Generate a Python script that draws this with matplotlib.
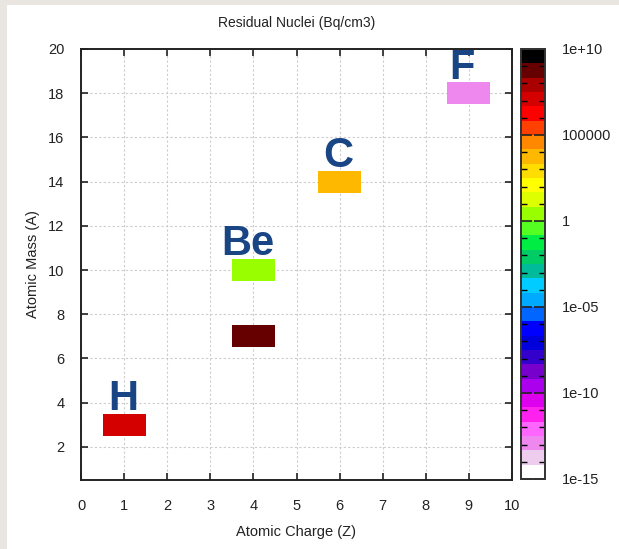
import numpy as np
import matplotlib
matplotlib.use('Agg')
import matplotlib.pyplot as plt
from matplotlib.colors import ListedColormap, LogNorm
from matplotlib.cm import ScalarMappable
from matplotlib.ticker import FixedLocator, NullFormatter
from matplotlib.patches import Rectangle

plt.rcParams['font.family'] = ['Liberation Sans', 'DejaVu Sans']

# residual nuclei: charge Z, mass A, activity (Bq/cm3)
nuclide_z = [1, 4, 4, 6, 9]
nuclide_a = [3, 7, 10, 14, 18]
activity = [1e7, 5e8, 3.0, 5e3, 1e-13]

# element labels and where they sit
labels = ['H', 'Be', 'C', 'F']
label_x = [0.97, 3.86, 5.97, 8.85]
label_y = [4.18, 11.2, 15.18, 19.15]

# gnuplot-like palette, 30 steps, low -> high
palette = ['#ffffff', '#eeccee', '#ee88ee', '#ff66ff', '#ff22ee', '#dd00ee',
           '#aa00ee', '#7700cc', '#3300cc', '#0000dd', '#0000ff', '#0066ff',
           '#00aaff', '#00ccff', '#00bb99', '#00cc66', '#00ee44', '#55ff22',
           '#99ff00', '#ddff00', '#ffff00', '#ffdd00', '#ffb800', '#ff8800',
           '#ff4000', '#ff0000', '#d40000', '#aa0000', '#660000', '#000000']
cmap = ListedColormap(palette)
norm = LogNorm(vmin=1e-15, vmax=1e10)

fig = plt.figure(figsize=(6.19, 5.49), dpi=100)
fig.patch.set_facecolor('#e9e5e1')
fig.patches.append(Rectangle((7/619, 0), 1, 1 - 5/549, transform=fig.transFigure,
                             facecolor='white', edgecolor='none', zorder=-10))

ax = fig.add_axes([81/619, 1 - 480/549, 431/619, 431/549])
for z, a, v in zip(nuclide_z, nuclide_a, activity):
    ax.bar(z, 1.0, bottom=a - 0.5, width=1.0, color=cmap(norm(v)), zorder=3)

ax.set_xlim(0, 10)
ax.set_ylim(0.5, 20)
ax.set_xticks(range(0, 11))
ax.set_yticks(range(2, 21, 2))
ax.tick_params(direction='in', top=True, right=True, length=5, width=1.2,
               labelsize=10.5, colors='#222222')
ax.tick_params(axis='x', pad=14)
ax.tick_params(axis='y', pad=12)
ax.grid(True, color='#cccccc', linestyle=(0, (2, 2)), linewidth=0.8, zorder=0)
for sp in ax.spines.values():
    sp.set_linewidth(1.4)
    sp.set_color('#222222')

ax.set_title('Residual Nuclei (Bq/cm3)', fontsize=10, color='#222222', pad=16)
ax.set_xlabel('Atomic Charge (Z)', fontsize=10.5, color='#222222', labelpad=8)
ax.set_ylabel('Atomic Mass (A)', fontsize=10.5, color='#222222', labelpad=6)

for t, x, y in zip(labels, label_x, label_y):
    ax.text(x, y, t, fontsize=30, fontweight='bold', color='#1a4585',
            ha='center', va='center', zorder=5, clip_on=False)

# colour bar
cax = fig.add_axes([521/619, 1 - 479/549, 24/619, 430/549])
sm = ScalarMappable(norm=norm, cmap=cmap)
cb = fig.colorbar(sm, cax=cax)
cb.set_ticks([1e-15, 1e-10, 1e-5, 1, 1e5, 1e10])
cb.set_ticklabels(['1e-15', '1e-10', '1e-05', '1', '100000', '1e+10'])
cax.yaxis.set_minor_locator(FixedLocator(10.0 ** np.arange(-15, 11)))
cax.yaxis.set_minor_formatter(NullFormatter())
cax.tick_params(which='major', direction='in', left=True, right=True,
                length=8, width=1.2, labelsize=10.5, colors='#222222', pad=12)
cax.tick_params(which='minor', direction='in', left=True, right=True,
                length=4, width=1.0)
cb.outline.set_linewidth(1.4)
cb.outline.set_edgecolor('#333333')

fig.savefig('out.png', dpi=100, facecolor=fig.get_facecolor())
